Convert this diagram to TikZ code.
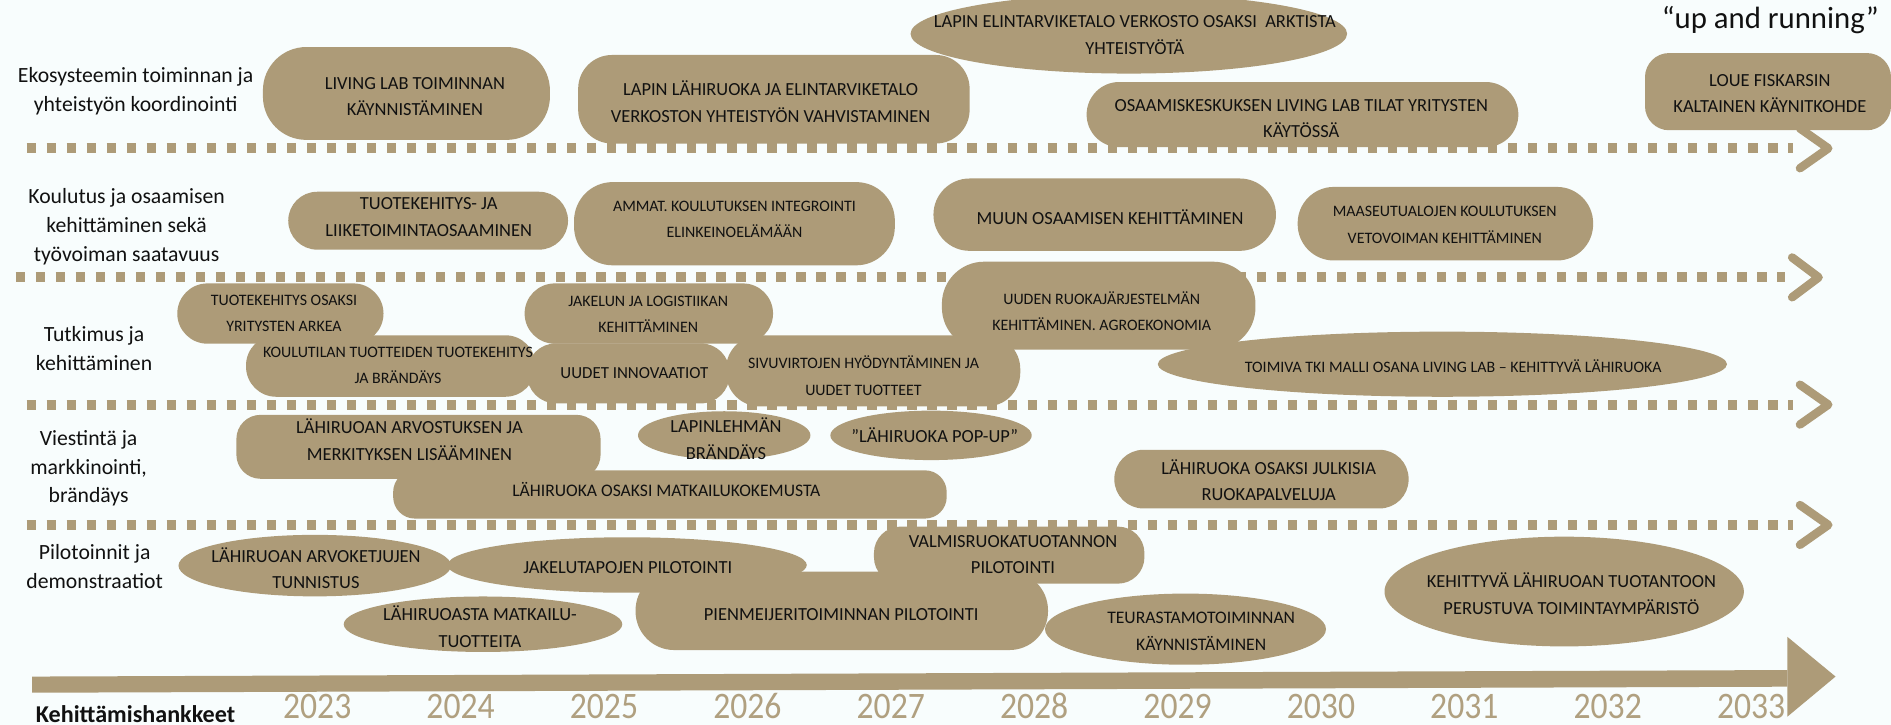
\documentclass[tikz,border=0pt]{standalone}
\usepackage{fontspec}
\setmainfont{Carlito}
\newfontfamily\yearfont[FakeStretch=0.9]{Carlito}
\usetikzlibrary{shapes.geometric}
\definecolor{gold}{RGB}{173,155,120}
\definecolor{pagebg}{RGB}{248,253,253}
\definecolor{ink}{RGB}{17,17,17}
\definecolor{yearc}{RGB}{176,160,128}
\tikzset{
  rbox/.style={fill=gold, draw=none, inner sep=0pt, rounded corners=#1},
  ebox/.style={ellipse, fill=gold, draw=none, inner sep=0pt},
  bigtxt/.style={text=ink, align=center, inner sep=0pt, font=\fontsize{15.3}{22}\selectfont},
  midtxt/.style={text=ink, align=center, inner sep=0pt, font=\fontsize{14.6}{22}\selectfont},
  smalltxt/.style={text=ink, align=center, inner sep=0pt, font=\fontsize{13.2}{22}\selectfont},
  labtxt/.style={text=ink, align=center, inner sep=0pt, font=\fontsize{18}{24}\selectfont},
  dotline/.style={gold, line width=8.3pt, dash pattern=on 7.7pt off 8.9pt},
  chev/.style={gold, line width=7pt, line cap=round, line join=round},
  yr/.style={text=yearc, inner sep=0pt, anchor=base, font=\yearfont\fontsize{31}{31}\selectfont},
}
\begin{document}
\begin{tikzpicture}[x=1pt,y=-1pt]
\useasboundingbox (0,0) rectangle (1568,601);
\clip (0,0) rectangle (1568,601);
\fill[pagebg] (0,0) rectangle (1568,601);

% ---------- shapes ----------
% row 1
\node[rbox=36, minimum width=238, minimum height=77] (b1) at (337,77.5) {};
\node[rbox=28, minimum width=324.6, minimum height=73.4] (b2) at (641.7,82.3) {};
\node[ebox, minimum width=362, minimum height=66] (b3) at (936,28) {};
\node[rbox=27, minimum width=358, minimum height=54] (b4) at (1080,95) {};
\node[rbox=20, minimum width=204, minimum height=64] (b5) at (1466,76) {};
% row 2
\node[rbox=24, minimum width=232, minimum height=48] (b6) at (355,183) {};
\node[rbox=32, minimum width=266, minimum height=69] (b7) at (609,185.5) {};
\node[rbox=30, minimum width=284, minimum height=60] (b8) at (916,178) {};
\node[rbox=30, minimum width=245, minimum height=61] (b9) at (1198.5,185.5) {};
% row 3
\node[rbox=25, minimum width=171, minimum height=50] (b10) at (232.5,260) {};
\node[rbox=25, minimum width=240, minimum height=51] (b11) at (324,303.5) {};
\node[rbox=25, minimum width=206, minimum height=50] (b12) at (538,260) {};
\node[rbox=24, minimum width=168, minimum height=49.8] (b13) at (521,309.6) {};
\node[rbox=28, minimum width=244, minimum height=59] (b14) at (724,307.5) {};
\node[rbox=35, minimum width=260, minimum height=73] (b15) at (911,253.5) {};
\node[ebox, minimum width=472, minimum height=54] (b16) at (1196,302) {};
% row 4
\node[rbox=20, minimum width=302, minimum height=53] (b17) at (347,370.5) {};
\node[ebox, minimum width=143, minimum height=40] (b18) at (600.5,361) {};
\node[ebox, minimum width=167, minimum height=41] (b19) at (772,361) {};
\node[rbox=18, minimum width=459, minimum height=40] (b20) at (555.5,410) {};
\node[rbox=24, minimum width=244, minimum height=48.6] (b21) at (1046,397.3) {};
% row 5
\node[ebox, minimum width=226, minimum height=51] (b22) at (261,469) {};
\node[ebox, minimum width=298, minimum height=46] (b23) at (520,468.5) {};
\node[ebox, minimum width=231, minimum height=46] (b24) at (400.5,517.6) {};
\node[rbox=32, minimum width=342, minimum height=65] (b25) at (698,506.5) {};
\node[rbox=22, minimum width=224.3, minimum height=47.3] (b26) at (836.8,460.3) {};
\node[ebox, minimum width=233, minimum height=59] (b27) at (983,521.7) {};
\node[ebox, minimum width=298, minimum height=91] (b28) at (1297,490.5) {};

% ---------- dotted row separators ----------
\coordinate (d1s) at (22,123);   \coordinate (d1e) at (1487,123);
\coordinate (d2s) at (13,230);   \coordinate (d2e) at (1480,230);
\coordinate (d3s) at (22,335.5); \coordinate (d3e) at (1487,335.5);
\coordinate (d4s) at (22,435.3); \coordinate (d4e) at (1487,435.3);
\draw[dotline] (d1s) -- (d1e);
\draw[dotline] (d2s) -- (d2e);
\draw[dotline] (d3s) -- (d3e);
\draw[dotline] (d4s) -- (d4e);
\coordinate (c1) at (1516,123);
\coordinate (c2) at (1508,230);
\coordinate (c3) at (1516,335.5);
\coordinate (c4) at (1516,435.3);
\foreach \c in {c1,c3,c4}
  \draw[chev] ([shift={(-23.5,-16.5)}]\c) -- (\c) -- ([shift={(-23.5,16.5)}]\c);
\draw[chev] ([shift={(-22,-16.5)}]c2) -- (c2) -- ([shift={(-22,16.5)}]c2);

% ---------- timeline arrow ----------
\coordinate (atip) at (1522,561);
\fill[gold] (26.7,561) -- (1482,555.6) -- (1482,569.4) -- (26.7,574.4) -- cycle;
\fill[gold] (1482,528) -- (atip) -- (1482,594.3) -- cycle;

% ---------- box texts ----------
\node[bigtxt] (t1) at (344,80) {LIVING LAB TOIMINNAN\\KÄYNNISTÄMINEN};
\node[bigtxt] (t2) at (639,84.5) {LAPIN LÄHIRUOKA JA ELINTARVIKETALO\\VERKOSTON YHTEISTYÖN VAHVISTAMINEN};
\node[bigtxt] (t3) at (941,29) {LAPIN ELINTARVIKETALO VERKOSTO OSAKSI\ \ ARKTISTA\\YHTEISTYÖTÄ};
\node[bigtxt] (t4) at (1079,98.5) {OSAAMISKESKUKSEN LIVING LAB TILAT YRITYSTEN\\KÄYTÖSSÄ};
\node[bigtxt] (t5) at (1467.5,77.5) {LOUE FISKARSIN\\KALTAINEN KÄYNITKOHDE};
\node[bigtxt] (t6) at (355.5,180) {TUOTEKEHITYS- JA\\LIIKETOIMINTAOSAAMINEN};
\node[smalltxt] (t7) at (609,182) {AMMAT. KOULUTUKSEN INTEGROINTI\\ELINKEINOELÄMÄÄN};
\node[bigtxt] (t8) at (920.5,180) {MUUN OSAAMISEN KEHITTÄMINEN};
\node[smalltxt] (t9) at (1198,186.5) {MAASEUTUALOJEN KOULUTUKSEN\\VETOVOIMAN KEHITTÄMINEN};
\node[smalltxt] (t10) at (235.5,260) {TUOTEKEHITYS OSAKSI\\YRITYSTEN ARKEA};
\node[smalltxt] (t11) at (330,303) {KOULUTILAN TUOTTEIDEN TUOTEKEHITYS\\JA BRÄNDÄYS};
\node[smalltxt] (t12) at (537.5,260.5) {JAKELUN JA LOGISTIIKAN\\KEHITTÄMINEN};
\node[smalltxt, font=\fontsize{14}{22}\selectfont] (t13) at (526,309) {UUDET INNOVAATIOT};
\node[smalltxt] (t14) at (716,311.5) {SIVUVIRTOJEN HYÖDYNTÄMINEN JA\\UUDET TUOTTEET};
\node[smalltxt] (t15) at (913.5,258) {UUDEN RUOKAJÄRJESTELMÄN\\KEHITTÄMINEN. AGROEKONOMIA};
\node[smalltxt] (t16) at (1205,303.5) {TOIMIVA TKI MALLI OSANA LIVING LAB – KEHITTYVÄ LÄHIRUOKA};
\node[bigtxt] (t17) at (339.5,364.5) {LÄHIRUOAN ARVOSTUKSEN JA\\MERKITYKSEN LISÄÄMINEN};
\node[bigtxt] (t18) at (602,363.7) {LAPINLEHMÄN\\BRÄNDÄYS};
\node[bigtxt] (t19) at (775,361) {”LÄHIRUOKA POP-UP”};
\node[midtxt] (t20) at (552.5,406.3) {LÄHIRUOKA OSAKSI MATKAILUKOKEMUSTA};
\node[bigtxt] (t21) at (1052,398) {LÄHIRUOKA OSAKSI JULKISIA\\RUOKAPALVELUJA};
\node[bigtxt] (t22) at (262,471) {LÄHIRUOAN ARVOKETJUJEN\\TUNNISTUS};
\node[bigtxt] (t23) at (520.5,471) {JAKELUTAPOJEN PILOTOINTI};
\node[bigtxt] (t24) at (398,519.5) {LÄHIRUOASTA MATKAILU-\\TUOTTEITA};
\node[bigtxt] (t25) at (697.5,510) {PIENMEIJERITOIMINNAN PILOTOINTI};
\node[bigtxt] (t26) at (840,460) {VALMISRUOKATUOTANNON\\PILOTOINTI};
\node[midtxt] (t27) at (996,523.7) {TEURASTAMOTOIMINNAN\\KÄYNNISTÄMINEN};
\node[bigtxt] (t28) at (1303,492.3) {KEHITTYVÄ LÄHIRUOAN TUOTANTOON\\PERUSTUVA TOIMINTAYMPÄRISTÖ};

% ---------- row labels ----------
\node[labtxt] (l1) at (112.5,76) {Ekosysteemin toiminnan ja\\yhteistyön koordinointi};
\node[labtxt] (l2) at (105,187.7) {Koulutus ja osaamisen\\kehittäminen sekä\\työvoiman saatavuus};
\node[labtxt] (l3) at (78,289) {Tutkimus ja\\kehittäminen};
\node[labtxt] (l4) at (73.5,388.3) {Viestintä ja\\markkinointi,\\brändäys};
\node[labtxt] (l5) at (78.5,470) {Pilotoinnit ja\\demonstraatiot};

% ---------- title, axis caption, years ----------
\node[anchor=base, text=ink, inner sep=0pt, font=\fontsize{25.5}{25.5}\selectfont] (title) at (1468,24) {“up and running”};
\node[anchor=base west, text=ink, inner sep=0pt, font=\bfseries\fontsize{20}{20}\selectfont] (kh) at (29.6,599) {Kehittämishankkeet};
\foreach \yy [count=\i from 0] in {2023,2024,2025,2026,2027,2028,2029,2030,2031,2032,2033}
  \node[yr] (y\yy) at (263+118.9*\i,596) {\yy};
\end{tikzpicture}
\end{document}
